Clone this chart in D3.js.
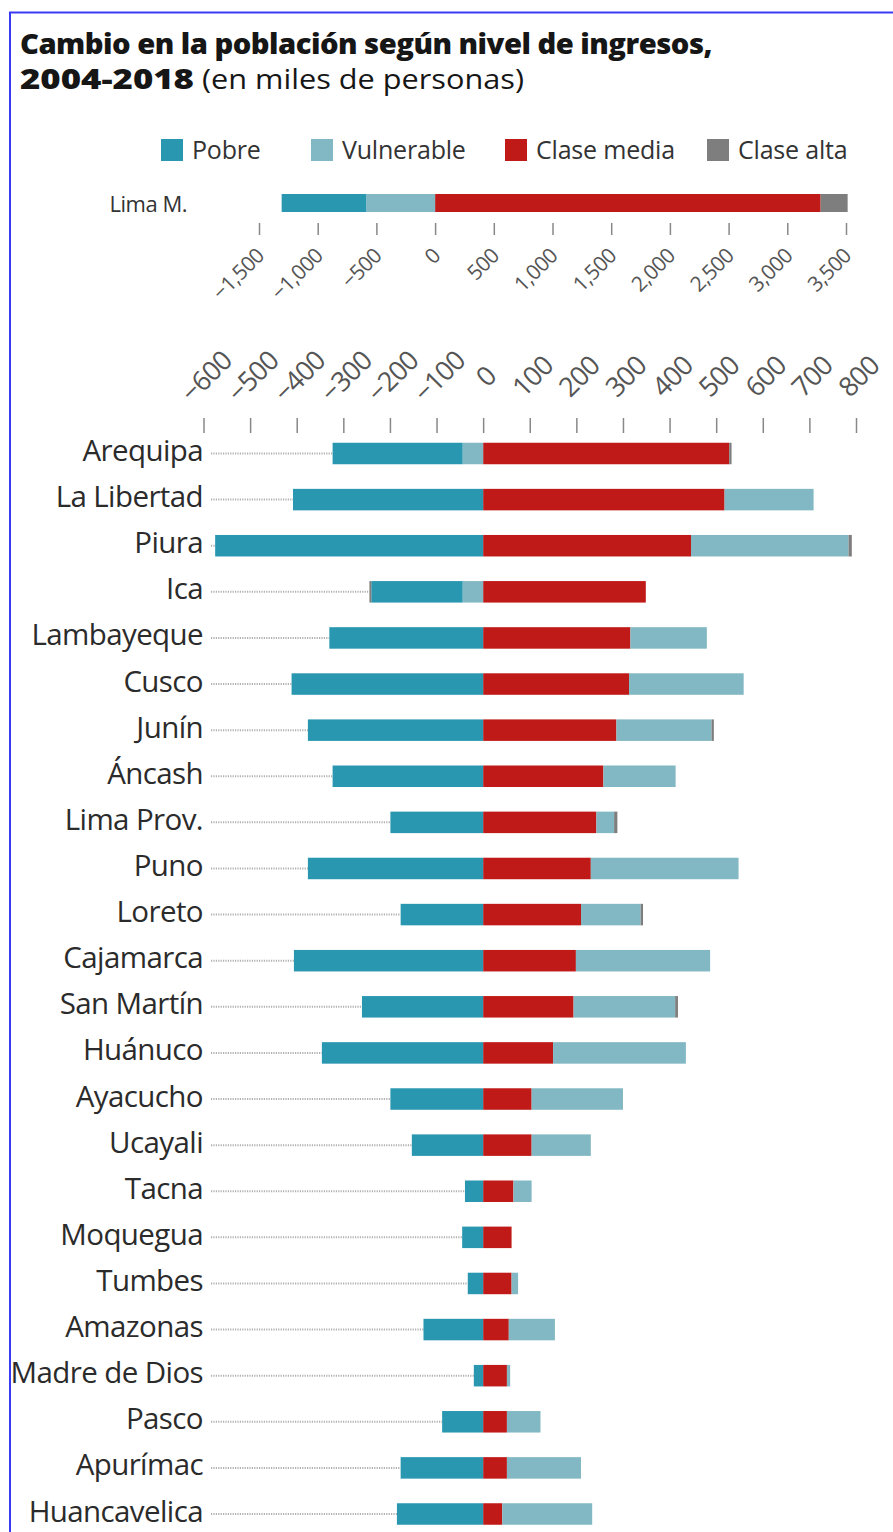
<!DOCTYPE html>
<html>
<head>
<meta charset="utf-8">
<script src="https://cdn.jsdelivr.net/npm/d3@7"></script>
<style>
  body { margin: 0; background: #fff; }
  svg { display: block; font-family: "Open Sans", Roboto, sans-serif; }
</style>
</head>
<body>
<svg width="893" height="1532"></svg>
<script>
// data (miles de personas)
var categories = ["Pobre", "Vulnerable", "Clase media", "Clase alta"];
var keys = ["pobre", "vulnerable", "claseMedia", "claseAlta"];

var limaLabel = "Lima M.";
var limaPobre = -720, limaVulnerable = -587, limaMedia = 3284, limaAlta = 230;
var limaTicks = [-1500, -1000, -500, 0, 500, 1000, 1500, 2000, 2500, 3000, 3500];

var regions = ["Arequipa", "La Libertad", "Piura", "Ica", "Lambayeque", "Cusco", "Junín", "Áncash",
  "Lima Prov.", "Puno", "Loreto", "Cajamarca", "San Martín", "Huánuco", "Ayacucho", "Ucayali",
  "Tacna", "Moquegua", "Tumbes", "Amazonas", "Madre de Dios", "Pasco", "Apurímac", "Huancavelica"];
var pobre      = [-279, -408, -575, -196, -330, -411, -376, -323, -199, -376, -177, -406, -260, -346, -199, -153, -39, -45, -33, -128, -20, -88, -177, -185];
var vulnerable = [-44, 191, 338, -44, 164, 246, 204, 155, 38, 317, 128, 288, 218, 285, 196, 127, 39, 0, 14, 99, 7, 72, 159, 193];
var claseMedia = [528, 518, 446, 349, 316, 313, 286, 258, 243, 231, 210, 199, 194, 150, 104, 104, 65, 61, 61, 55, 51, 51, 51, 41];
var claseAlta  = [5, 0, 7, -4, 0, 0, 5, 0, 7, 0, 5, 0, 6, 0, 0, 0, 0, 0, 0, 0, 0, 0, 0, 0];
var regionTicks = [-600, -500, -400, -300, -200, -100, 0, 100, 200, 300, 400, 500, 600, 700, 800];

var colors = {pobre: "#2a97b1", vulnerable: "#82b8c3", claseMedia: "#bf1a17", claseAlta: "#7e7e7e"};

var svg = d3.select("svg");

// frame
svg.append("path")
  .attr("d", "M10,1532V12.5H893")
  .attr("fill", "none")
  .attr("stroke", "#3a3af5")
  .attr("stroke-width", 2);

// title (the original face is wider than anything installed, so stretch it a bit)
svg.append("text")
  .attr("x", 20).attr("y", 54)
  .attr("textLength", 692).attr("lengthAdjust", "spacingAndGlyphs")
  .style("font-size", "28px").style("font-weight", 800)
  .style("letter-spacing", "-0.5px")
  .attr("fill", "#161616")
  .text("Cambio en la población según nivel de ingresos,");
var t2 = svg.append("text")
  .attr("x", 20).attr("y", 89)
  .style("font-size", "28px")
  .attr("fill", "#161616");
t2.append("tspan").style("font-weight", 800)
  .attr("textLength", 174).attr("lengthAdjust", "spacingAndGlyphs")
  .text("2004-2018");
t2.append("tspan").attr("x", 202)
  .attr("textLength", 322).attr("lengthAdjust", "spacingAndGlyphs")
  .text("(en miles de personas)");

// legend
var legendX = [161, 311, 505, 707];
var lg = svg.append("g").selectAll("g")
  .data(categories)
  .join("g")
  .attr("transform", (d, i) => "translate(" + legendX[i] + ",139)");
lg.append("rect")
  .attr("width", 22).attr("height", 22)
  .attr("fill", (d, i) => colors[keys[i]]);
lg.append("text")
  .attr("x", 31).attr("y", 20)
  .style("font-size", "25px").style("letter-spacing", "-0.2px")
  .attr("fill", "#333")
  .text(d => d);

// --- Lima Metropolitana ---
var xL = d3.scaleLinear().domain([-1500, 3500]).range([259, 846]);
var limaRows = [{region: limaLabel, pobre: limaPobre, vulnerable: limaVulnerable, claseMedia: limaMedia, claseAlta: limaAlta}];
var stackOrder = ["claseMedia", "vulnerable", "pobre", "claseAlta"];
var stack = d3.stack().keys(stackOrder).offset(d3.stackOffsetDiverging);

svg.append("g").selectAll("g")
  .data(stack(limaRows))
  .join("g")
  .attr("fill", d => colors[d.key])
  .selectAll("rect")
  .data(d => d)
  .join("rect")
  .attr("x", d => xL(Math.min(d[0], d[1])))
  .attr("width", d => Math.abs(xL(d[1]) - xL(d[0])))
  .attr("y", 194).attr("height", 18);

svg.append("text")
  .attr("x", 187).attr("y", 212)
  .attr("text-anchor", "end")
  .style("font-size", "22px").style("letter-spacing", "-0.5px")
  .attr("fill", "#333")
  .text(limaLabel);

var axL = svg.append("g")
  .attr("transform", "translate(0,223)")
  .call(d3.axisBottom(xL).tickValues(limaTicks).tickSize(12).tickFormat(d3.format(",")));
axL.select(".domain").remove();
axL.selectAll(".tick line").attr("stroke", "#888").attr("stroke-width", 1.5);
axL.selectAll(".tick text")
  .attr("fill", "#555")
  .style("font-size", "21px").style("font-family", "'Open Sans', sans-serif")
  .style("letter-spacing", "-0.5px")
  .attr("text-anchor", "end")
  .attr("y", 0).attr("dy", 0)
  .attr("transform", "translate(6,34) rotate(-45)");

// --- regiones ---
var x = d3.scaleLinear().domain([-600, 800]).range([203.5, 856]);
var y = d3.scalePoint().domain(regions).range([453.5, 1514]);
var barH = 21.5;

var rows = regions.map((r, i) => ({region: r, pobre: pobre[i], vulnerable: vulnerable[i], claseMedia: claseMedia[i], claseAlta: claseAlta[i]}));
var series = stack(rows);

// dotted leaders up to the left end of each bar
var leftEnd = rows.map(d => Math.min(0, d.pobre) + Math.min(0, d.vulnerable) + Math.min(0, d.claseAlta));
svg.append("g").selectAll("line")
  .data(rows)
  .join("line")
  .attr("x1", 211)
  .attr("x2", (d, i) => x(leftEnd[i]))
  .attr("y1", d => y(d.region)).attr("y2", d => y(d.region))
  .attr("stroke", "#b0b0b0")
  .attr("stroke-width", 2)
  .attr("stroke-dasharray", "1.2,1.2");

svg.append("g").selectAll("g")
  .data(series)
  .join("g")
  .attr("fill", d => colors[d.key])
  .selectAll("rect")
  .data(d => d)
  .join("rect")
  .attr("x", d => x(Math.min(d[0], d[1])))
  .attr("width", d => Math.abs(x(d[1]) - x(d[0])))
  .attr("y", d => y(d.data.region) - barH / 2)
  .attr("height", barH);

svg.append("g").selectAll("text")
  .data(regions)
  .join("text")
  .attr("x", 203)
  .attr("y", d => y(d) + 7.5)
  .attr("text-anchor", "end")
  .style("font-size", "29.5px").style("letter-spacing", "-0.6px")
  .attr("fill", "#2b2b2b")
  .text(d => d);

var axR = svg.append("g")
  .attr("transform", "translate(0,418)")
  .call(d3.axisBottom(x).tickValues(regionTicks).tickSize(15).tickFormat(d3.format("d")));
axR.select(".domain").remove();
axR.selectAll(".tick line").attr("stroke", "#888").attr("stroke-width", 1.5);
axR.selectAll(".tick text")
  .attr("fill", "#555")
  .style("font-size", "27px").style("font-family", "'Open Sans', sans-serif")
  .style("letter-spacing", "-0.8px")
  .attr("text-anchor", "middle")
  .attr("y", 0).attr("dy", 0)
  .attr("transform", "translate(9,-35) rotate(-45)");
</script>
</body>
</html>
